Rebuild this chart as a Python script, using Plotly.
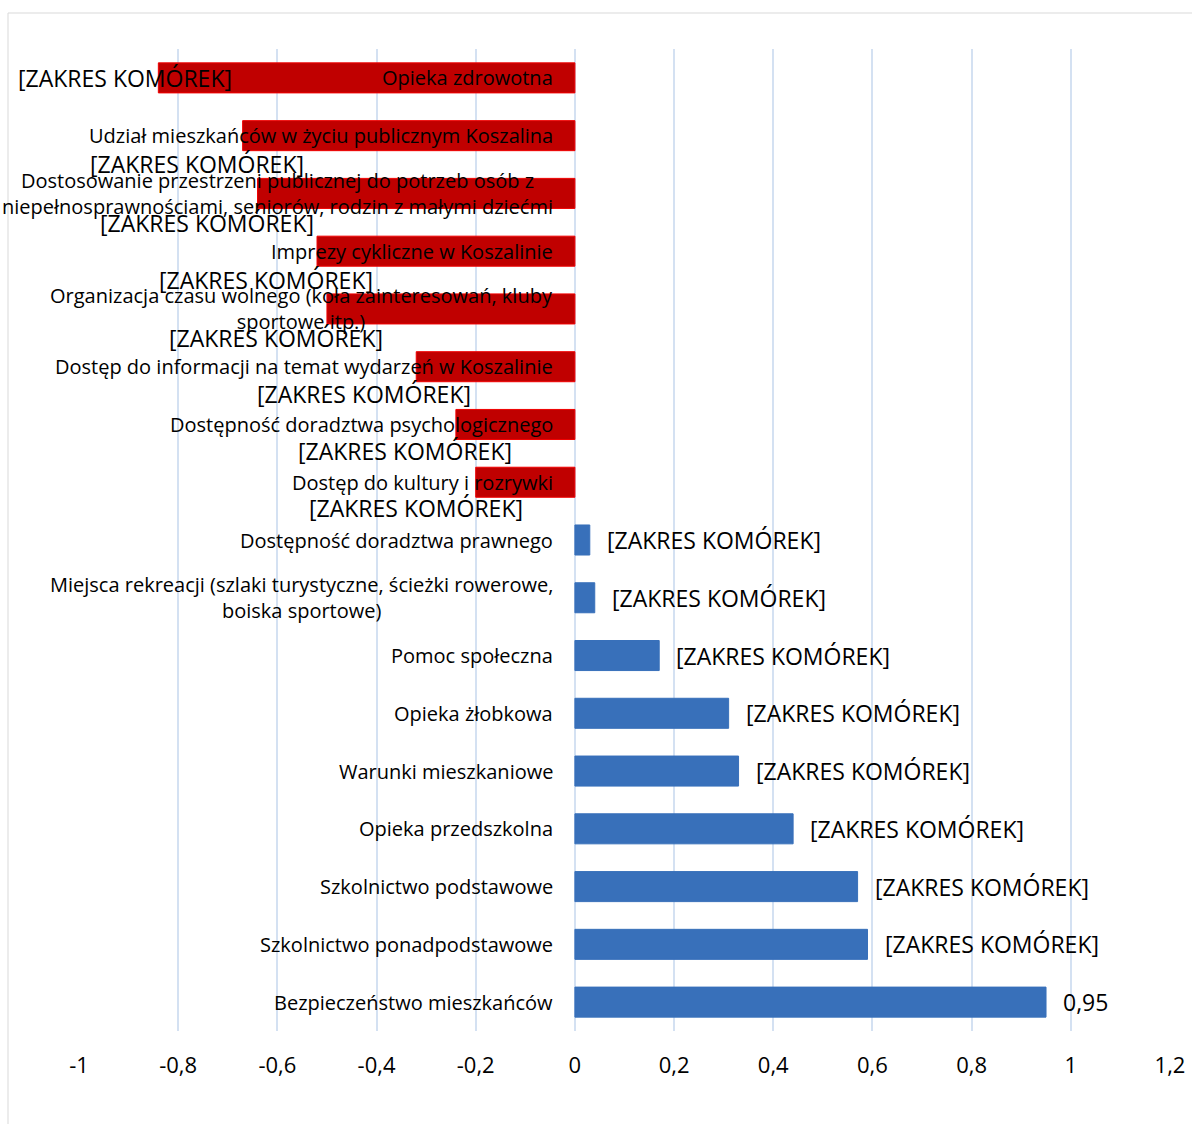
import plotly.graph_objects as go

# ---------------- data ----------------
categories = [
    "Opieka zdrowotna",
    "Udział mieszkańców w życiu publicznym Koszalina",
    "Dostosowanie przestrzeni publicznej do potrzeb osób z niepełnosprawnościami, seniorów, rodzin z małymi dziećmi",
    "Imprezy cykliczne w Koszalinie",
    "Organizacja czasu wolnego (koła zainteresowań, kluby sportowe itp.)",
    "Dostęp do informacji na temat wydarzeń w Koszalinie",
    "Dostępność doradztwa psychologicznego",
    "Dostęp do kultury i rozrywki",
    "Dostępność doradztwa prawnego",
    "Miejsca rekreacji (szlaki turystyczne, ścieżki rowerowe, boiska sportowe)",
    "Pomoc społeczna",
    "Opieka żłobkowa",
    "Warunki mieszkaniowe",
    "Opieka przedszkolna",
    "Szkolnictwo podstawowe",
    "Szkolnictwo ponadpodstawowe",
    "Bezpieczeństwo mieszkańców",
]

category_labels = [
    "Opieka zdrowotna",
    "Udział mieszkańców w życiu publicznym Koszalina",
    "Dostosowanie przestrzeni publicznej do potrzeb osób z<br>niepełnosprawnościami, seniorów, rodzin z małymi dziećmi",
    "Imprezy cykliczne w Koszalinie",
    "Organizacja czasu wolnego (koła zainteresowań, kluby<br>sportowe itp.)",
    "Dostęp do informacji na temat wydarzeń w Koszalinie",
    "Dostępność doradztwa psychologicznego",
    "Dostęp do kultury i rozrywki",
    "Dostępność doradztwa prawnego",
    "Miejsca rekreacji (szlaki turystyczne, ścieżki rowerowe,<br>boiska sportowe)",
    "Pomoc społeczna",
    "Opieka żłobkowa",
    "Warunki mieszkaniowe",
    "Opieka przedszkolna",
    "Szkolnictwo podstawowe",
    "Szkolnictwo ponadpodstawowe",
    "Bezpieczeństwo mieszkańców",
]

values = [-0.84, -0.67, -0.64, -0.52, -0.50, -0.32, -0.24, -0.20,
          0.03, 0.04, 0.17, 0.31, 0.33, 0.44, 0.57, 0.59, 0.95]

data_labels = [
    "[ZAKRES KOMÓREK]", "[ZAKRES KOMÓREK]", "[ZAKRES KOMÓREK]", "[ZAKRES KOMÓREK]",
    "[ZAKRES KOMÓREK]", "[ZAKRES KOMÓREK]", "[ZAKRES KOMÓREK]", "[ZAKRES KOMÓREK]",
    "[ZAKRES KOMÓREK]", "[ZAKRES KOMÓREK]", "[ZAKRES KOMÓREK]", "[ZAKRES KOMÓREK]",
    "[ZAKRES KOMÓREK]", "[ZAKRES KOMÓREK]", "[ZAKRES KOMÓREK]", "[ZAKRES KOMÓREK]",
    "0,95",
]

tick_values = [-1, -0.8, -0.6, -0.4, -0.2, 0, 0.2, 0.4, 0.6, 0.8, 1, 1.2]
tick_labels = ["-1", "-0,8", "-0,6", "-0,4", "-0,2", "0", "0,2", "0,4", "0,6", "0,8", "1", "1,2"]

# ---------------- style ----------------
FONT = "Open Sans, Noto Sans, sans-serif"
CAT_SIZE = 20
LBL_SIZE = 23
TICK_SIZE = 22
NEG_FILL = "#C00000"
NEG_LINE = "#F00000"
POS_FILL = "#3870BA"
GRID = "#D4E1F2"
# pixel offsets for the manually placed labels of negative bars (dx, dy)
neg_label_offsets = [(-33, 0), (-46, -28), (-51, -30), (-51, -29),
                     (-51, -29), (-52, -27), (-51, -27), (-60, -26)]

W, H = 1192, 1124
ML, MR, MT, MB = 78, 21, 49, 93

colors = [NEG_FILL if v < 0 else POS_FILL for v in values]
line_colors = [NEG_LINE if v < 0 else POS_FILL for v in values]

fig = go.Figure()
fig.add_trace(go.Bar(
    x=values,
    y=categories,
    orientation="h",
    marker=dict(color=colors, line=dict(color=line_colors, width=1)),
    hoverinfo="skip",
))

annotations = []
# category labels next to zero
for cat, lab in zip(categories, category_labels):
    annotations.append(dict(
        x=0, y=cat, xref="x", yref="y", text=lab, showarrow=False,
        xanchor="right", yanchor="middle", align="center", xshift=-20,
        font=dict(family=FONT, size=CAT_SIZE, color="#000000"),
    ))

# data labels
neg_i = 0
for cat, v, lab in zip(categories, values, data_labels):
    if v < 0:
        dx, dy = neg_label_offsets[neg_i]
        neg_i += 1
        annotations.append(dict(
            x=v, y=cat, xref="x", yref="y", text=lab, showarrow=False,
            xanchor="center", yanchor="middle", xshift=dx, yshift=dy,
            font=dict(family=FONT, size=LBL_SIZE, color="#000000"),
        ))
    else:
        annotations.append(dict(
            x=v, y=cat, xref="x", yref="y", text=lab, showarrow=False,
            xanchor="left", yanchor="middle", xshift=15,
            font=dict(family=FONT, size=LBL_SIZE, color="#000000"),
        ))

pw = W - ML - MR
ph = H - MT - MB
shapes = [dict(
    type="rect", xref="paper", yref="paper",
    x0=(8 - ML) / pw, x1=(W + 10 - ML) / pw,
    y0=-(H + 10 - (H - MB)) / ph, y1=((H - MB) - 13) / ph,
    line=dict(color="#D9D9D9", width=1), fillcolor="rgba(0,0,0,0)", layer="below",
)]

fig.update_layout(
    width=W, height=H, autosize=False,
    margin=dict(l=ML, r=MR, t=MT, b=MB, pad=0),
    paper_bgcolor="white", plot_bgcolor="white",
    showlegend=False,
    bargap=0.48,
    annotations=annotations,
    shapes=shapes,
    font=dict(family=FONT, color="#000000"),
    xaxis=dict(
        range=[-1.002, 1.202],
        tickvals=tick_values, ticktext=tick_labels,
        showgrid=True, gridcolor=GRID, gridwidth=1.5,
        zeroline=False, showline=False,
        ticks="outside", ticklen=15, tickcolor="rgba(0,0,0,0)",
        tickfont=dict(family=FONT, size=TICK_SIZE, color="#000000"),
        automargin=False,
        fixedrange=True,
    ),
    yaxis=dict(
        type="category", autorange="reversed",
        showticklabels=False, showgrid=False, zeroline=False, showline=False,
        automargin=False,
        fixedrange=True,
    ),
)

fig.write_html(
    "out.html",
    config={"displayModeBar": False},
    post_script="document.body.style.margin='0';document.body.style.overflow='hidden';",
)
